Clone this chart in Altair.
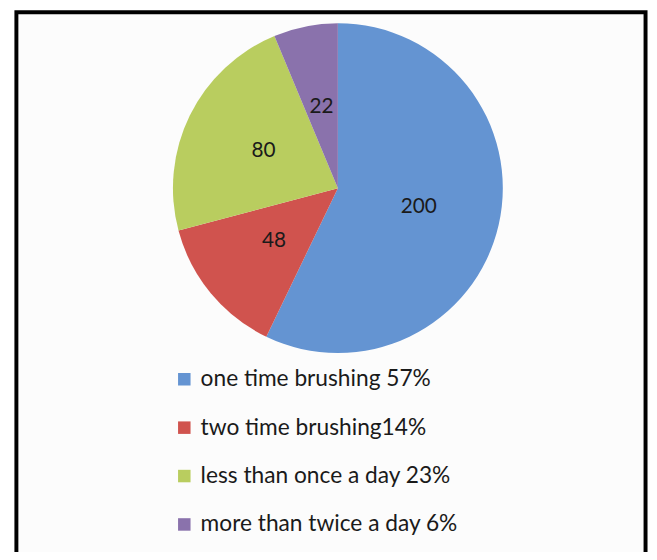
import altair as alt
import pandas as pd

categories = ["one time brushing 57%", "two time brushing14%",
              "less than once a day 23%", "more than twice a day 6%"]
values = [200, 48, 80, 22]
colors = ["#6494D2", "#D0534E", "#B9CD5F", "#8A72AC"]

df = pd.DataFrame({"category": categories, "value": values,
                   "order": list(range(len(values)))})

W, H = 637, 544
CX, CY, R = 326, 179, 167

frame = alt.Chart(pd.DataFrame({"a": [0]})).mark_rect(
    fill="#FCFCFC", stroke="black", strokeWidth=4
).encode(
    x=alt.value(0.5), x2=alt.value(637.5),
    y=alt.value(1), y2=alt.value(700)
)

color = alt.Color(
    "category:N",
    scale=alt.Scale(domain=categories, range=colors),
    sort=categories,
    legend=alt.Legend(
        title=None, orient="none", legendX=159, legendY=361,
        direction="vertical", symbolType="square", symbolSize=160,
        symbolStrokeWidth=0, labelFont="Lato", labelFontSize=23,
        labelColor="#1a1a1a", rowPadding=25, labelOffset=5, padding=0,
        labelLimit=400
    ),
)

pie = alt.Chart(df).mark_arc(stroke=None, strokeWidth=0).encode(
    theta=alt.Theta("value:Q", stack=True),
    color=color,
    order=alt.Order("order:Q"),
    x=alt.value(CX), y=alt.value(CY),
    radius=alt.value(R),
)

labels = alt.Chart(df).mark_text(
    radius=84, font="Lato", fontSize=21, color="#1a1a1a"
).encode(
    theta=alt.Theta("value:Q", stack=True),
    order=alt.Order("order:Q"),
    text=alt.Text("value:Q"),
    x=alt.value(CX), y=alt.value(CY),
)

chart = alt.layer(frame, pie, labels).properties(
    width=W, height=H,
    autosize=alt.AutoSizeParams(type="none"),
    padding={"left": 8, "top": 0, "right": 4, "bottom": 0},
    background="white",
).configure_view(stroke=None)

chart.save("out.html", embed_options={"renderer": "svg", "actions": False})
